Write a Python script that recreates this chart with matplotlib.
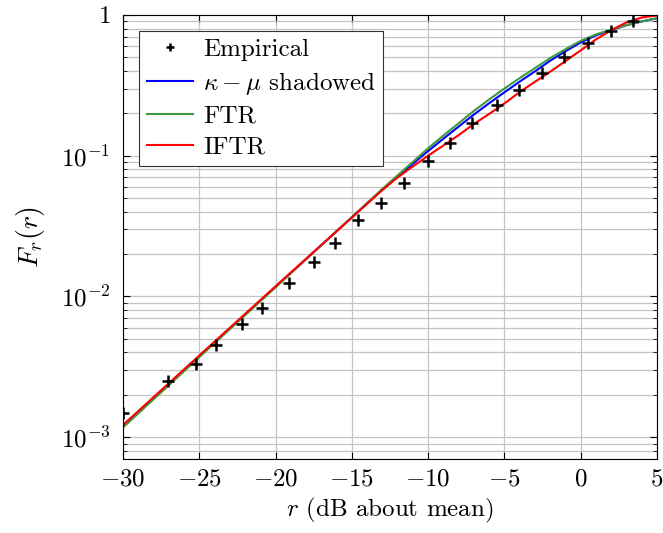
import matplotlib
matplotlib.use("Agg")
import matplotlib.pyplot as plt
from matplotlib.ticker import FixedLocator, FixedFormatter, LogLocator, NullFormatter

plt.rcParams['font.family'] = ['cmr10', 'DejaVu Serif']
plt.rcParams['mathtext.fontset'] = 'cm'
plt.rcParams['axes.unicode_minus'] = False

# empirical CDF points
emp_x = [-30.0, -27.05, -25.2, -23.9, -22.2, -20.9, -19.1, -17.5, -16.1, -14.6, -13.1,
         -11.6, -10.0, -8.6, -7.1, -5.5, -4.06, -2.57, -1.1, 0.45, 1.98, 3.42]
emp_y = [1.48e-3, 2.5e-3, 3.3e-3, 4.5e-3, 6.4e-3, 8.3e-3, 1.24e-2, 1.75e-2, 2.4e-2, 3.5e-2, 4.6e-2,
         6.4e-2, 9.2e-2, 0.124, 0.172, 0.228, 0.293, 0.389, 0.50, 0.633, 0.773, 0.91]

# model curves
curve_x = [-30, -25, -20, -15, -13, -12, -11, -10, -9, -8, -7, -6, -5, -4, -3, -2, -1, 0, 1, 2, 3, 4, 5]
ksh_y = [1.20e-3, 3.75e-3, 0.0117, 0.0365, 0.0575, 0.0711, 0.0877, 0.108, 0.132, 0.161, 0.196, 0.236,
         0.282, 0.336, 0.397, 0.473, 0.552, 0.638, 0.716, 0.783, 0.845, 0.899, 0.946]
ftr_y = [1.17e-3, 3.7e-3, 0.0116, 0.0365, 0.0581, 0.0725, 0.0903, 0.113, 0.139, 0.170, 0.208, 0.251,
         0.300, 0.356, 0.419, 0.494, 0.571, 0.654, 0.727, 0.787, 0.845, 0.899, 0.946]
iftr_y = [1.22e-3, 3.8e-3, 0.0118, 0.0363, 0.0570, 0.070, 0.0839, 0.100, 0.118, 0.140, 0.168, 0.198,
          0.235, 0.283, 0.335, 0.395, 0.470, 0.560, 0.670, 0.780, 0.885, 0.959, 0.991]

labels = ['Empirical', r'$\kappa-\mu$ shadowed', 'FTR', 'IFTR']

fig = plt.figure(figsize=(6.63, 5.33), dpi=100)
ax = fig.add_axes([0.1855, 0.139, 0.8055, 0.833])

ax.semilogy(curve_x, ksh_y, color='#0000ff', lw=1.5, label=labels[1])
ax.semilogy(curve_x, ftr_y, color='#3f9a3f', lw=1.5, label=labels[2])
ax.semilogy(curve_x, iftr_y, color='#ff0000', lw=1.5, label=labels[3])
ax.plot(emp_x, emp_y, ls='none', marker='+', color='black', ms=9, mew=1.8, label=labels[0])

ax.set_xlim(-30, 5)
ax.set_ylim(7e-4, 1)

xt = [-30, -25, -20, -15, -10, -5, 0, 5]
ax.xaxis.set_major_locator(FixedLocator(xt))
ax.xaxis.set_major_formatter(FixedFormatter([r'$%d$' % v if v >= 0 else r'$-%d$' % -v for v in xt]))
yt = [1e-3, 1e-2, 1e-1, 1]
ax.yaxis.set_major_locator(FixedLocator(yt))
ax.yaxis.set_major_formatter(FixedFormatter([r'$10^{-3}$', r'$10^{-2}$', r'$10^{-1}$', r'$1$']))
ax.yaxis.set_minor_locator(LogLocator(base=10, subs=range(2, 10)))
ax.yaxis.set_minor_formatter(NullFormatter())

ax.tick_params(which='both', direction='in', top=True, right=True, labelsize=18)
ax.tick_params(which='major', length=5)
ax.tick_params(which='minor', length=3)
ax.tick_params(axis='x', pad=7)
ax.tick_params(axis='y', pad=9)
ax.grid(True, which='major', color='#c4c4c4', lw=0.9)
ax.grid(True, which='minor', axis='y', color='#c4c4c4', lw=0.9)
ax.set_axisbelow(True)

ax.set_xlabel(r'$r$ (dB about mean)', fontsize=18)
ax.set_ylabel(r'$F_r(r)$', fontsize=20, labelpad=10)

h, l = ax.get_legend_handles_labels()
order = [3, 0, 1, 2]
leg = ax.legend([h[i] for i in order], [l[i] for i in order], loc='upper left',
                fontsize=18, fancybox=False, framealpha=1, edgecolor='#333333',
                handlelength=1.85, borderaxespad=0.65, labelspacing=0.34, borderpad=0.3,
                handletextpad=0.4, markerscale=0.7)
leg.get_frame().set_linewidth(0.8)

for s in ax.spines.values():
    s.set_linewidth(0.8)

fig.savefig('out.png', dpi=100)
